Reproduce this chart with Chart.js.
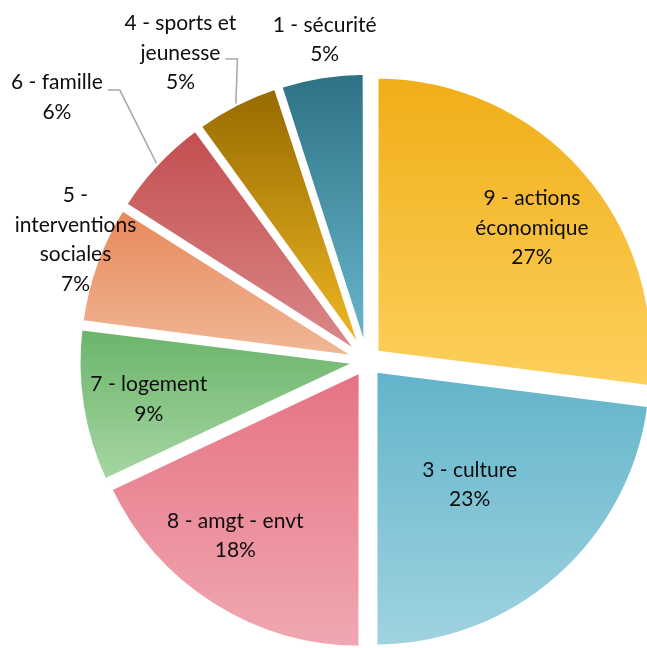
<!DOCTYPE html>
<html>
<head>
<meta charset="utf-8">
<script src="https://cdn.jsdelivr.net/npm/chart.js@4.4.1/dist/chart.umd.min.js"></script>
<style>
  html, body { margin: 0; padding: 0; background: #fff; overflow: hidden; }
  #wrap { position: relative; width: 647px; height: 648px; }
</style>
</head>
<body>
<div id="wrap"><canvas id="pieChart" width="647" height="648"></canvas></div>
<script>
// Répartition par thème (en %), dans l'ordre du camembert (sens horaire depuis midi)
const CATEGORIES = [
    ['9 - actions', 'économique'],
    ['3 - culture'],
    ['8 - amgt - envt'],
    ['7 - logement'],
    ['5 -', 'interventions', 'sociales'],
    ['6 - famille'],
    ['4 - sports et', 'jeunesse'],
    ['1 - sécurité'],
];
const VALUES = [27, 23, 18, 9, 7, 6, 5, 5];

// Dégradé vertical de chaque part (haut -> bas)
const TOP_COLORS = ['#F0AE18', '#62B4CB', '#E67282', '#6AB46A', '#E8895A', '#C44E50', '#976B00', '#2E7285'];
const BOTTOM_COLORS = ['#FDD05C', '#A0D3E0', '#F0A8B2', '#A6D6A2', '#F1B898', '#DA8A8A', '#F2BA25', '#6BBAD0'];

// Placement des étiquettes : rayon relatif, décalage d'angle (degrés), trait de rappel (décalage vertical)
const LABEL_RADIUS = [0.765, 0.58, 0.79, 0.80, 1.14, 1.47, 1.30, 1.17];
const LABEL_SHIFT = [2.5, 1.7, 4.6, -1, 2.8, -2.8, -4.2, 1.5];
const LABEL_LEADER = [null, null, null, null, null, -7, 6, null];

const PIE_RADIUS = 277;
// Chart.js déplace la part de offset / 4 et agrandit un peu les petites parts :
// on réduit donc l'éclatement des petites parts pour garder le même bord extérieur
const SLICE_OFFSETS = [48, 48, 44, 33, 30, 29, 28, 28];
const LINE_HEIGHT = 29.5;

function total() {
    return VALUES.reduce((a, b) => a + b, 0);
}

// Dégradé calculé sur la boîte englobante de la part
function sliceGradient(context) {
    const i = context.dataIndex;
    const chart = context.chart;
    const area = chart.chartArea;
    if (i === undefined || !area) return TOP_COLORS[0];
    const cx = (area.left + area.right) / 2;
    const cy = (area.top + area.bottom) / 2;
    const sum = total();
    let before = 0;
    for (let k = 0; k < i; k++) before += VALUES[k];
    const a0 = -Math.PI / 2 + before / sum * Math.PI * 2;
    const a1 = a0 + VALUES[i] / sum * Math.PI * 2;
    const ys = [cy, cy + Math.sin(a0) * PIE_RADIUS, cy + Math.sin(a1) * PIE_RADIUS];
    const inside = a => (a >= a0 && a <= a1);
    if (inside(-Math.PI / 2) || inside(Math.PI * 1.5)) ys.push(cy - PIE_RADIUS);
    if (inside(Math.PI / 2)) ys.push(cy + PIE_RADIUS);
    const grad = chart.ctx.createLinearGradient(0, Math.min(...ys), 0, Math.max(...ys));
    grad.addColorStop(0, TOP_COLORS[i]);
    grad.addColorStop(1, BOTTOM_COLORS[i]);
    return grad;
}

const pieLabels = {
    id: 'pieLabels',
    afterDatasetsDraw(chart) {
        const ctx = chart.ctx;
        const meta = chart.getDatasetMeta(0);
        const sum = total();
        ctx.save();
        ctx.font = '21px Lato';
        ctx.fillStyle = '#0d0d0d';
        ctx.textAlign = 'center';
        ctx.textBaseline = 'middle';
        meta.data.forEach((arc, i) => {
            const { x, y, startAngle, endAngle, outerRadius, circumference } = arc;
            const midTrue = (startAngle + endAngle) / 2;
            const mid = midTrue + LABEL_SHIFT[i] * Math.PI / 180;
            const r = outerRadius * LABEL_RADIUS[i];
            const lx = x + Math.cos(mid) * r;
            const ly = y + Math.sin(mid) * r;
            const lines = [...CATEGORIES[i], Math.round(VALUES[i] / sum * 100) + '%'];
            const y0 = ly - (lines.length - 1) * LINE_HEIGHT / 2;
            lines.forEach((t, k) => ctx.fillText(t, lx, y0 + k * LINE_HEIGHT));

            if (LABEL_LEADER[i] !== null) {
                const leadY = ly + LABEL_LEADER[i];
                let best = 0;
                lines.forEach((t, k) => {
                    if (Math.abs(y0 + k * LINE_HEIGHT - leadY) < Math.abs(y0 + best * LINE_HEIGHT - leadY)) best = k;
                });
                const sx = lx + ctx.measureText(lines[best]).width / 2 + 5;
                const shift = arc.options.offset / 4;
                const fix = 1 - Math.sin(Math.min(Math.PI, circumference));
                const rr = outerRadius + shift * (1 + fix);
                ctx.beginPath();
                ctx.moveTo(sx, leadY);
                ctx.lineTo(sx + 12, leadY);
                ctx.lineTo(x + Math.cos(midTrue) * rr, y + Math.sin(midTrue) * rr);
                ctx.strokeStyle = '#A6A6A6';
                ctx.lineWidth = 1.5;
                ctx.stroke();
            }
        });
        ctx.restore();
    }
};

window.onload = function() {
    const ctx = document.getElementById('pieChart').getContext('2d');
    new Chart(ctx, {
        type: 'pie',
        data: {
            labels: CATEGORIES,
            datasets: [{
                data: VALUES,
                backgroundColor: sliceGradient,
                borderColor: '#ffffff',
                borderWidth: 5,
                offset: SLICE_OFFSETS,
                hoverOffset: 0,
                clip: false,
            }]
        },
        options: {
            responsive: false,
            animation: false,
            radius: PIE_RADIUS,
            layout: { padding: { left: 87, top: 74, right: 0, bottom: 0 } },
            plugins: {
                legend: { display: false },
                tooltip: { enabled: false }
            }
        },
        plugins: [pieLabels]
    });
};
</script>
</body>
</html>
